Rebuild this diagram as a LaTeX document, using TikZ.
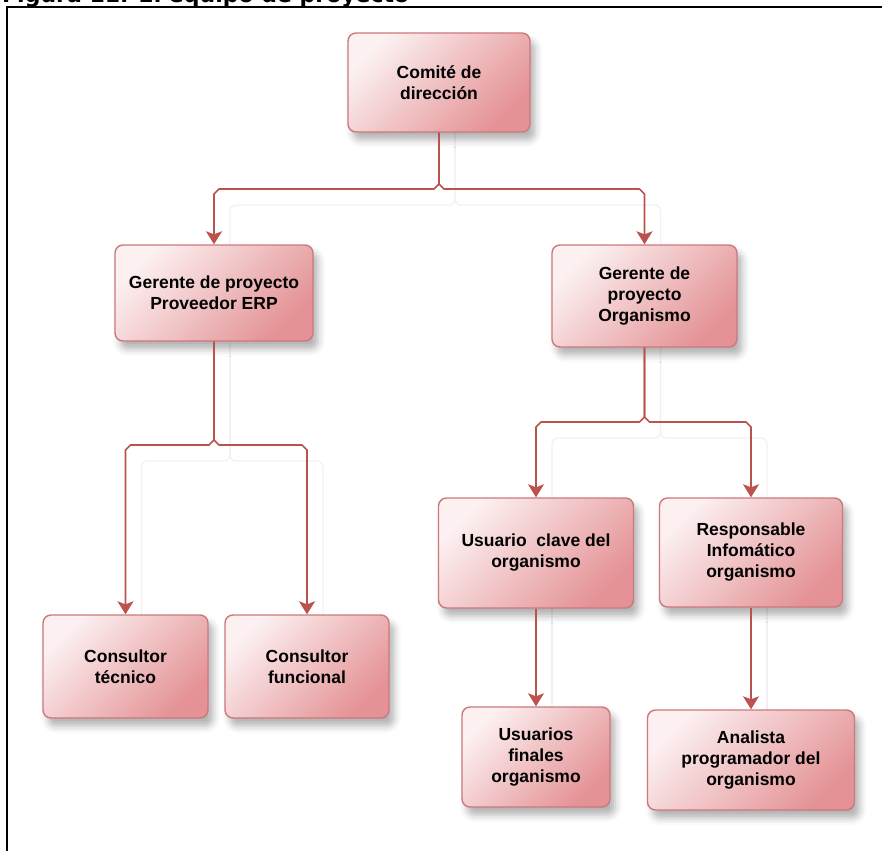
\documentclass[tikz,border=0pt]{standalone}
\usepackage{fontspec}
\setmainfont{Liberation Sans}
\newfontfamily\titlefont{DejaVu Sans}
\usetikzlibrary{arrows.meta,calc,shadows.blur}

\definecolor{linkred}{RGB}{188,82,78}
\definecolor{boxedge}{RGB}{204,120,124}
\definecolor{boxlight}{RGB}{252,240,241}
\definecolor{boxdark}{RGB}{228,146,149}
\definecolor{ghost}{RGB}{242,240,246}

\pgfdeclarelayer{bg}
\pgfsetlayers{bg,main}

% fork from a parent box down to one child box, with a small hop at the split
\newcommand\branch[4]{%
  \draw[link] (#1.south) -- ($(#1.south |- 0,#3)+(0,-5)$)
    -- ($(#1.south |- 0,#3)+({#4*5},0)$)
    -- ($(#2.north |- 0,#3)+({#4*(-5)},0)$)
    -- ($(#2.north |- 0,#3)+(0,5)$) -- (#2.north);}
% faint offset shadow of a fork
\newcommand\ghostbranch[3]{%
  \draw[ghostline] ($(#1.south)+(16,0)$) -- ($(#1.south |- 0,#3)+(16,16)$)
    -- ($(#2.north |- 0,#3)+(16,16)$) -- ($(#2.north)+(16,10)$);}

\begin{document}
\begin{tikzpicture}[x=1pt,y=-1pt,
  box/.style={draw=boxedge, line width=1.4pt, rounded corners=8pt, align=center,
    font=\bfseries\fontsize{17.5}{21}\selectfont, inner sep=0pt,
    top color=boxlight, bottom color=boxdark, shading angle=45,
    blur shadow={shadow xshift=5pt, shadow yshift=-8pt, shadow blur radius=7pt,
      shadow opacity=30}},
  wh/.style 2 args={minimum width=#1pt, minimum height=#2pt},
  link/.style={draw=linkred, line width=1.6pt, line join=round,
    -{Stealth[length=13pt,width=16pt,inset=3pt]}},
  ghostline/.style={draw=ghost, line width=1.3pt, rounded corners=6pt},
  frameline/.style={draw=black, line width=2.2pt}]
\useasboundingbox (0,0) rectangle (882,850);

% caption and frame
\node[anchor=base west, inner sep=0pt,
  font=\titlefont\bfseries\fontsize{22}{26}\selectfont] (title) at (2,3)
  {Figura 11. El equipo de proyecto};
\draw[frameline] (7,851) -- (7,7) -- (883,7);

% boxes
\node[box, wh={182}{99}]  (com)    at (439,82.5)   {Comité de\\dirección};
\node[box, wh={198}{96}]  (gerp)   at (214,293)    {Gerente de proyecto\\Proveedor ERP};
\node[box, wh={185}{102}] (gorg)   at (644.5,296)  {Gerente de\\proyecto\\Organismo};
\node[box, wh={165}{103}] (ctec)   at (125.5,666.5){Consultor\\técnico};
\node[box, wh={164}{103}] (cfun)   at (307,666.5)  {Consultor\\funcional};
\node[box, wh={195}{110}] (uclave) at (536,553)    {Usuario\ \ clave del\\organismo};
\node[box, wh={183}{109}] (resp)   at (751,552.5)  {Responsable\\Infomático\\organismo};
\node[box, wh={148}{100}] (ufin)   at (536,757)    {Usuarios\\finales\\organismo};
\node[box, wh={207}{100}] (anal)   at (751,760)    {Analista\\programador del\\organismo};

% faint connector shadows
\begin{pgfonlayer}{bg}
  \ghostbranch{com}{gerp}{189}
  \ghostbranch{com}{gorg}{189}
  \ghostbranch{gerp}{ctec}{445}
  \ghostbranch{gerp}{cfun}{445}
  \ghostbranch{gorg}{uclave}{422}
  \ghostbranch{gorg}{resp}{422}
  \draw[ghostline] ($(uclave.south)+(16,0)$) -- ($(ufin.north)+(16,10)$);
  \draw[ghostline] ($(resp.south)+(16,0)$) -- ($(anal.north)+(16,10)$);
\end{pgfonlayer}

% connectors
\branch{com}{gerp}{189}{-1}
\branch{com}{gorg}{189}{1}
\branch{gerp}{ctec}{445}{-1}
\branch{gerp}{cfun}{445}{1}
\branch{gorg}{uclave}{422}{-1}
\branch{gorg}{resp}{422}{1}
\draw[link] (uclave.south) -- (ufin.north);
\draw[link] (resp.south) -- (anal.north);
\end{tikzpicture}
\end{document}
